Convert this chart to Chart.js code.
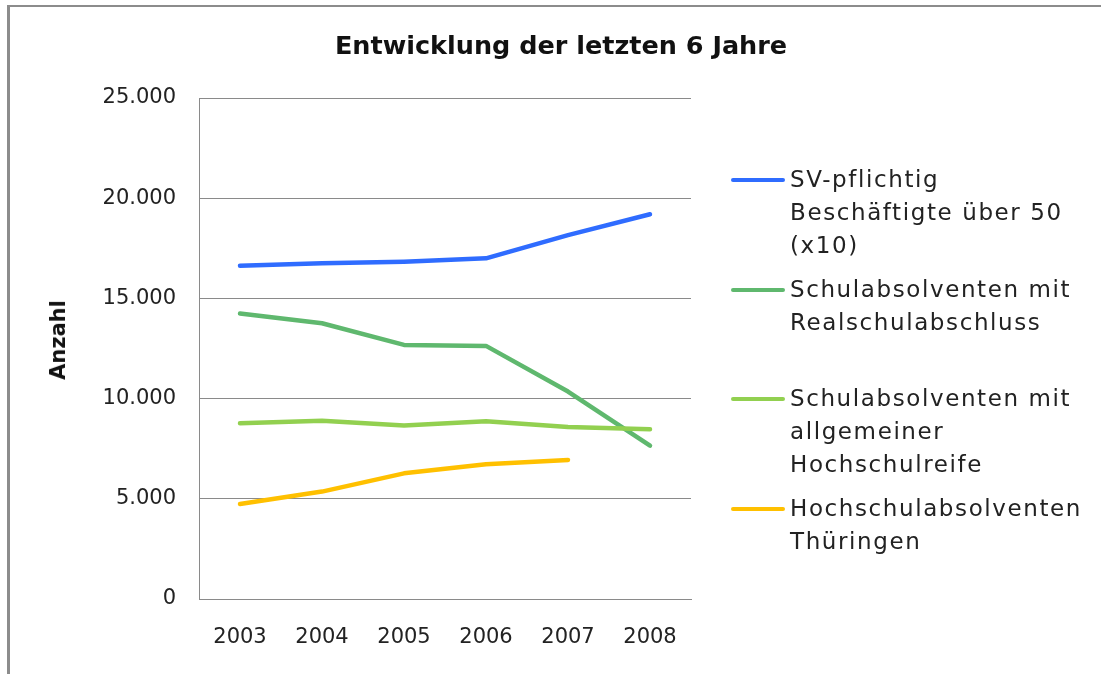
<!DOCTYPE html>
<html lang="de">
<head>
<meta charset="utf-8">
<title>Entwicklung der letzten 6 Jahre</title>
<script src="https://cdn.jsdelivr.net/npm/chart.js@4.4.1/dist/chart.umd.min.js"></script>
<style>
  html, body { margin: 0; padding: 0; background: #fff; }
  #wrap { position: relative; width: 1101px; height: 674px; overflow: hidden; font-family: "DejaVu Sans", sans-serif; }
  #frame { position: absolute; left: 7px; top: 5px; width: 1200px; height: 800px; border-left: 3px solid #8c8c8c; border-top: 2px solid #8c8c8c; }
  #chart { position: absolute; left: 0; top: 0; }
  #title { position: absolute; left: 561px; top: 30px; transform: translateX(-50%); white-space: nowrap;
           font-size: 25.5px; font-weight: bold; color: #111; }
  #ytitle { position: absolute; left: 58px; top: 340px; transform: translate(-50%, -50%) rotate(-90deg);
            font-size: 21px; font-weight: bold; color: #111; white-space: nowrap; }
  .entry { position: absolute; left: 731px; }
  .entry .swatch { position: absolute; left: 0; top: 15px; width: 54px; height: 4px; border-radius: 2px; }
  .entry .text { position: absolute; left: 59px; top: 0; white-space: nowrap; font-size: 23px; line-height: 33px;
                 letter-spacing: 1.6px; color: #222; }
</style>
</head>
<body>
<div id="wrap">
  <div id="frame"></div>
  <canvas id="chart" width="1101" height="674"></canvas>
  <div id="title">Entwicklung der letzten 6 Jahre</div>
  <div id="ytitle">Anzahl</div>
  <div id="legend"></div>
</div>
<script>
  "use strict";

  // Values
  var years = ["2003", "2004", "2005", "2006", "2007", "2008"];
  var svBeschaeftigte = [16630, 16750, 16830, 17000, 18160, 19200];
  var realschule = [14250, 13760, 12680, 12630, 10350, 7650];
  var hochschulreife = [8770, 8900, 8660, 8870, 8580, 8470];
  var hochschulabsolventen = [4740, 5360, 6270, 6720, 6940, null];
  var yTickLabels = ["0", "5.000", "10.000", "15.000", "20.000", "25.000"];

  var seriesLabels = [
    ["SV-pflichtig", "Beschäftigte über 50", "(x10)"],
    ["Schulabsolventen mit", "Realschulabschluss"],
    ["Schulabsolventen mit", "allgemeiner", "Hochschulreife"],
    ["Hochschulabsolventen", "Thüringen"],
  ];
  var seriesColors = ["#2f6cff", "#5fb86e", "#92d050", "#ffc000"];

  var gridColor = "#8a8a8a";
  var tickFont = { family: "DejaVu Sans", size: 21 };

  function line(idx, values) {
    return {
      label: seriesLabels[idx].join(" "),
      data: values,
      borderColor: seriesColors[idx],
      backgroundColor: seriesColors[idx],
      borderWidth: 4.5,
      borderCapStyle: "round",
      borderJoinStyle: "round",
      pointRadius: 0,
      pointHoverRadius: 0,
      tension: 0,
      spanGaps: false,
      order: 4 - idx, // later series painted on top, as in the original
    };
  }

  new Chart(document.getElementById("chart"), {
    type: "line",
    data: {
      labels: years,
      datasets: [
        line(0, svBeschaeftigte),
        line(1, realschule),
        line(2, hochschulreife),
        line(3, hochschulabsolventen),
      ],
    },
    options: {
      responsive: false,
      animation: false,
      layout: { padding: { left: 0, right: 410, top: 98, bottom: 0 } },
      plugins: { legend: { display: false }, tooltip: { enabled: false }, title: { display: false } },
      scales: {
        x: {
          offset: true,
          grid: { display: false, drawTicks: false },
          border: { display: true, color: gridColor, width: 1 },
          ticks: { color: "#222", font: tickFont, padding: 26, maxRotation: 0 },
          afterFit: function (scale) { scale.height = 75; },
        },
        y: {
          min: 0,
          max: 25000,
          grid: { color: gridColor, lineWidth: 1, drawTicks: false },
          border: { display: true, color: gridColor, width: 1 },
          ticks: {
            stepSize: 5000,
            color: "#222",
            font: tickFont,
            padding: 23,
            callback: function (value) { return yTickLabels[Math.round(value / 5000)]; },
          },
          afterFit: function (scale) { scale.width = 199; },
        },
      },
    },
  });

  // Legend drawn as HTML, wrapped exactly like the original
  var legendTops = [163, 273, 382, 492];
  var legend = document.getElementById("legend");
  seriesLabels.forEach(function (lines, i) {
    var entry = document.createElement("div");
    entry.className = "entry";
    entry.style.top = legendTops[i] + "px";
    var sw = document.createElement("div");
    sw.className = "swatch";
    sw.style.background = seriesColors[i];
    var tx = document.createElement("div");
    tx.className = "text";
    tx.innerHTML = lines.join("<br>");
    entry.appendChild(sw);
    entry.appendChild(tx);
    legend.appendChild(entry);
  });
</script>
</body>
</html>
